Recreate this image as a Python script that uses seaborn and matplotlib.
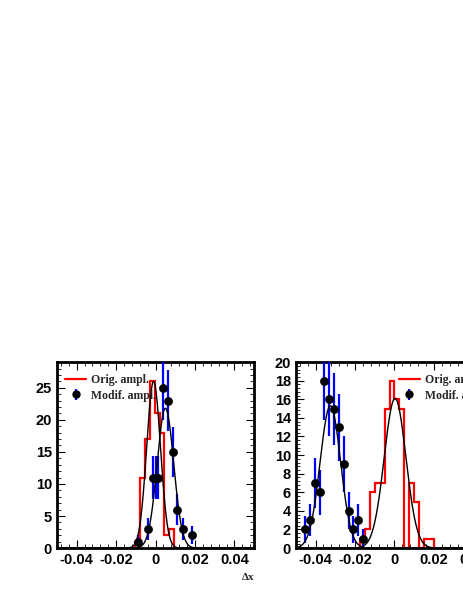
import matplotlib
matplotlib.use("Agg")
import matplotlib.pyplot as plt
from matplotlib.ticker import MultipleLocator
import seaborn as sns
import numpy as np
import pandas as pd

sns.set_style("ticks")
plt.rcParams['font.family'] = ['Liberation Sans', 'DejaVu Sans']

# left panel
left_edges = [-0.0105, -0.008, -0.0055, -0.003, -0.0005, 0.002, 0.0045, 0.007, 0.0095]
left_counts = [1, 11, 17, 26, 21, 18, 2, 3]
left_x = [-0.0088, -0.0037, -0.0015, 0.0, 0.0014, 0.0036, 0.0061, 0.0086, 0.011, 0.0137, 0.0186]
left_y = [1, 3, 11, 11, 11, 25, 23, 15, 6, 3, 2]
left_fit_orig = (26.0, -0.0010, 0.0035)
left_fit_mod = (21.8, 0.0050, 0.0042)

# right panel
right_edges = [-0.0175, -0.015, -0.0125, -0.01, -0.0075, -0.005, -0.0025, 0.0, 0.0025,
               0.005, 0.0075, 0.01, 0.0125, 0.015, 0.0175, 0.02]
right_counts = [1, 2, 6, 7, 7, 15, 18, 16, 15, 0, 7, 5, 0, 1, 1]
right_x = [-0.0455, -0.043, -0.0405, -0.038, -0.0358, -0.033, -0.0307, -0.028, -0.0257,
           -0.0233, -0.0208, -0.0183, -0.0158]
right_y = [2, 3, 7, 6, 18, 16, 15, 13, 9, 4, 2, 3, 1]
right_fit_orig = (16.1, 0.0003, 0.0055)
right_fit_mod = (15.3, -0.0325, 0.0052)

fig = plt.figure(figsize=(4.63, 5.99), dpi=100)
axL = fig.add_axes([0.123, 0.085, 0.426, 0.3105])
axR = fig.add_axes([0.639, 0.085, 0.426, 0.3105])

tickfont = dict(family='Liberation Sans', weight='bold', size=10.5)
legfont = dict(family='Liberation Serif', weight='bold', size=8.5)


def draw(ax, edges, counts, xs, ys, fo, fm, ymax, ymaj, leg_x):
    ax.stairs(counts, edges, color='red', lw=1.6, label='Orig. ampl.')
    err = np.sqrt(ys)
    ax.errorbar(xs, ys, yerr=err, fmt='none', ecolor='blue', elinewidth=1.6, zorder=3)
    sns.scatterplot(x=xs, y=ys, ax=ax, color='black', s=34, edgecolor='black', zorder=4)
    xx = np.linspace(-0.05, 0.05, 600)
    for a, m, s in (fo, fm):
        yy = a * np.exp(-0.5 * ((xx - m) / s) ** 2)
        ax.plot(xx, yy, color='black', lw=1, zorder=5)
    ax.set_xlim(-0.05, 0.05)
    ax.set_ylim(0, ymax)
    ax.xaxis.set_major_locator(MultipleLocator(0.02))
    ax.xaxis.set_minor_locator(MultipleLocator(0.004))
    ax.yaxis.set_major_locator(MultipleLocator(ymaj))
    ax.yaxis.set_minor_locator(MultipleLocator(ymaj / 5))
    ax.tick_params(which='both', direction='in', top=True, right=True, color='black',
                   labelcolor='black')
    ax.tick_params(which='major', length=6)
    ax.tick_params(which='minor', length=3)
    ax.set_xticks([-0.04, -0.02, 0, 0.02, 0.04])
    ax.set_xticklabels(['-0.04', '-0.02', '0', '0.02', '0.04'], **tickfont)
    for lab in ax.get_yticklabels():
        lab.set_fontweight('bold')
        lab.set_fontsize(10.5)
    for sp in ax.spines.values():
        sp.set_linewidth(2)
        sp.set_color('black')
    # legend
    h1, = ax.plot([], [], color='red', lw=1.6)
    h2 = ax.errorbar([], [], yerr=[], fmt='o', color='black', ms=5, ecolor='blue', elinewidth=1.6)
    ax.legend([h1, h2], ['Orig. ampl.', 'Modif. ampl.'], loc='upper left',
              bbox_to_anchor=(leg_x, 0.98), frameon=False, prop=legfont,
              handlelength=1.8, borderpad=0.2, labelspacing=0.3, handletextpad=0.4)


draw(axL, left_edges, left_counts, left_x, left_y, left_fit_orig, left_fit_mod, 29, 5, 0.0)
draw(axR, right_edges, right_counts, right_x, right_y, right_fit_orig, right_fit_mod, 20, 2, 0.48)

fig.text(248 / 463, 1 - 578 / 599, 'Δx', ha='center', va='center',
         family='Liberation Serif', weight='bold', fontsize=8)

fig.savefig('out.png', dpi=100)
